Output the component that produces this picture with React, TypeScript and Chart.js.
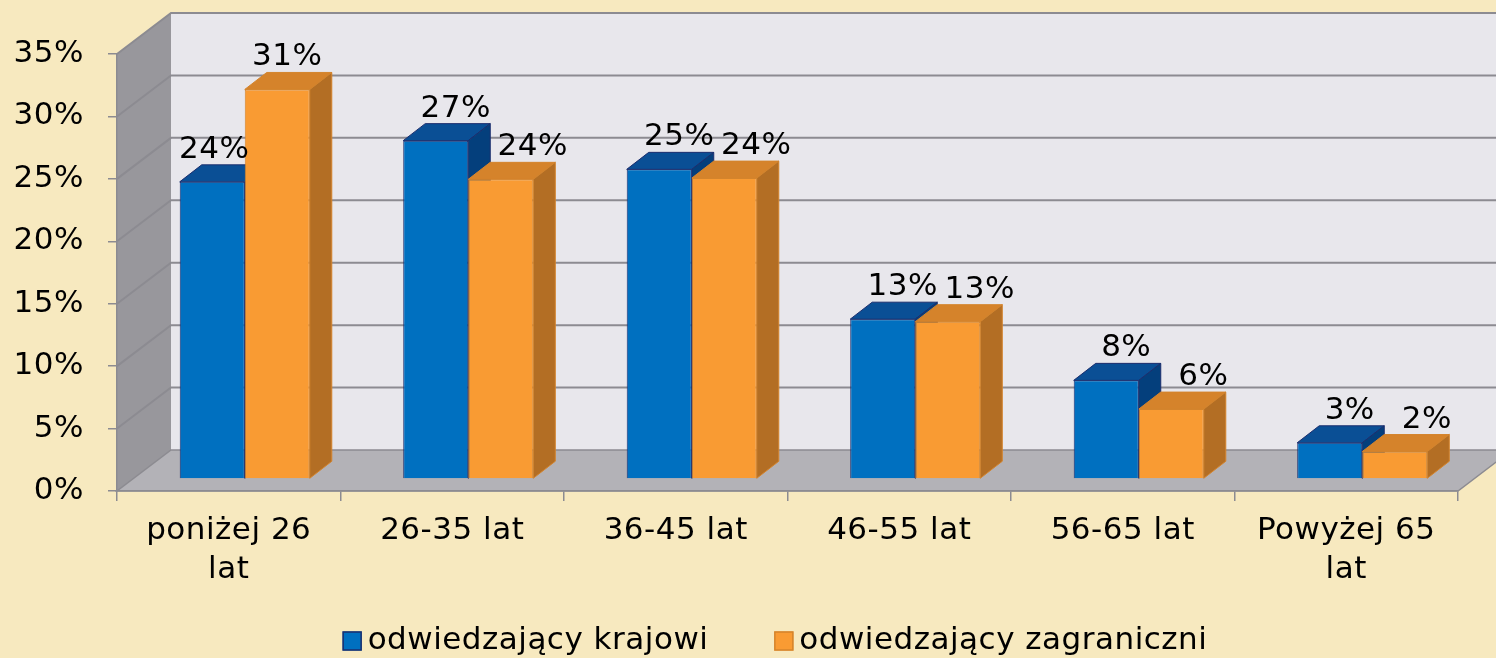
import React, { useEffect, useRef } from 'react';
import { Chart, registerables } from 'chart.js';

Chart.register(...registerables);

// ---- data ----
const categories: (string | string[])[] = [
  ['poniżej 26', 'lat'],
  '26-35 lat',
  '36-45 lat',
  '46-55 lat',
  '56-65 lat',
  ['Powyżej 65', 'lat'],
];
const domesticValues = [23.8, 27.1, 24.8, 12.8, 7.9, 2.9];
const foreignValues = [31.2, 24.0, 24.1, 12.6, 5.6, 2.2];
const seriesLabels = ['odwiedzający krajowi', 'odwiedzający zagraniczni'];
const yMin = 0;
const yMax = 35;
const yStep = 5;

// ---- style ----
const FONT = '"DejaVu Sans", Verdana, sans-serif';
const FONT_SIZE = 31;
const SPACING = '0.5px';
const BG = '#F7E9BF';
const BACK_WALL = '#E8E7EC';
const SIDE_WALL = '#98979C';
const FLOOR = '#B3B2B7';
const GRID = '#8C8B91';
const LEGEND_CENTER_X = 775;
const LEGEND_CENTER_Y = 641;

const BLUE = { front: '#0070C0', top: '#0A4F95', side: '#043F7C', edge: '#1B2E6E' };
const ORANGE = { front: '#F99B33', top: '#D5832B', side: '#B36E24', edge: '#D4842C' };
const PALETTES = [BLUE, ORANGE];

// projection offsets
const FRONT = { dx: 16, dy: -12 };
const DEPTH = { dx: 22, dy: -17 };
const WALL = { dx: 54, dy: -41 };

function poly(ctx: CanvasRenderingContext2D, pts: number[][], fill: string, stroke?: string, lw = 1) {
  ctx.beginPath();
  ctx.moveTo(pts[0][0], pts[0][1]);
  for (let i = 1; i < pts.length; i++) ctx.lineTo(pts[i][0], pts[i][1]);
  ctx.closePath();
  ctx.fillStyle = fill;
  ctx.fill();
  if (stroke) {
    ctx.strokeStyle = stroke;
    ctx.lineWidth = lw;
    ctx.stroke();
  }
}

const threeD = {
  id: 'threeD',
  beforeUpdate(chart: any) {
    (chart.ctx as any).letterSpacing = SPACING;
  },
  beforeDraw(chart: any) {
    const { ctx, chartArea: a, scales } = chart;
    (ctx as any).letterSpacing = SPACING;
    const y = scales.y;
    ctx.save();
    ctx.fillStyle = BG;
    ctx.fillRect(0, 0, chart.width, chart.height);
    // back wall
    ctx.fillStyle = BACK_WALL;
    ctx.fillRect(a.left + WALL.dx, a.top + WALL.dy, a.right - a.left, a.bottom - a.top);
    // side wall
    poly(ctx, [
      [a.left, a.top], [a.left + WALL.dx, a.top + WALL.dy],
      [a.left + WALL.dx, a.bottom + WALL.dy], [a.left, a.bottom],
    ], SIDE_WALL);
    // floor
    poly(ctx, [
      [a.left, a.bottom], [a.right, a.bottom],
      [a.right + WALL.dx, a.bottom + WALL.dy], [a.left + WALL.dx, a.bottom + WALL.dy],
    ], FLOOR, GRID, 1.5);
    // grid lines on side and back walls
    ctx.strokeStyle = GRID;
    ctx.lineWidth = 2;
    y.ticks.forEach((t: any) => {
      if (t.value <= yMin) return;
      const yp = y.getPixelForValue(t.value);
      ctx.beginPath();
      ctx.moveTo(a.left, yp);
      ctx.lineTo(a.left + WALL.dx, yp + WALL.dy);
      ctx.lineTo(a.right + WALL.dx, yp + WALL.dy);
      ctx.stroke();
    });
    ctx.restore();
  },
  beforeDatasetsDraw(chart: any) {
    const ctx: CanvasRenderingContext2D = chart.ctx;
    const n = chart.data.labels.length;
    const metas = chart.data.datasets.map((_: any, i: number) => chart.getDatasetMeta(i));
    ctx.save();
    ctx.lineJoin = 'round';
    for (let j = 0; j < n; j++) {
      metas.forEach((meta: any, i: number) => {
        const el = meta.data[j];
        if (!el) return;
        const p = PALETTES[i];
        const left = el.x - el.width / 2 + FRONT.dx;
        const right = el.x + el.width / 2 + FRONT.dx;
        const top = el.y + FRONT.dy;
        const bottom = el.base + FRONT.dy;
        poly(ctx, [
          [left, top], [right, top],
          [right + DEPTH.dx, top + DEPTH.dy], [left + DEPTH.dx, top + DEPTH.dy],
        ], p.top, p.edge, 1);
        poly(ctx, [
          [right, top], [right + DEPTH.dx, top + DEPTH.dy],
          [right + DEPTH.dx, bottom + DEPTH.dy], [right, bottom],
        ], p.side, p.edge, 1);
      });
    }
    ctx.restore();
    ctx.save();
    ctx.translate(FRONT.dx, FRONT.dy);
  },
  afterDatasetsDraw(chart: any) {
    const ctx: CanvasRenderingContext2D = chart.ctx;
    ctx.restore();
    ctx.save();
    (ctx as any).letterSpacing = SPACING;
    ctx.font = `${FONT_SIZE}px ${FONT}`;
    ctx.fillStyle = '#000';
    ctx.textAlign = 'center';
    ctx.textBaseline = 'alphabetic';
    const datasets = chart.data.datasets;
    datasets.forEach((ds: any, i: number) => {
      const meta = chart.getDatasetMeta(i);
      meta.data.forEach((el: any, j: number) => {
        const v = ds.data[j];
        const next = datasets[i + 1];
        const prev = datasets[i - 1];
        let shift: number;
        if (i === 0) shift = next && next.data[j] > v ? 2 : 20;
        else shift = prev && prev.data[j] < v ? 10 : 32;
        const x = el.x + FRONT.dx + shift;
        const yb = el.y + FRONT.dy - 24;
        ctx.fillText(`${Math.round(v)}%`, x, yb);
      });
    });
    ctx.restore();
  },
  afterDraw(chart: any) {
    const ctx: CanvasRenderingContext2D = chart.ctx;
    ctx.save();
    (ctx as any).letterSpacing = SPACING;
    ctx.font = `${FONT_SIZE}px ${FONT}`;
    const box = 19;
    const gap = 6;
    const itemGap = 66;
    const items = chart.data.datasets.map((ds: any, i: number) => ({
      text: ds.label,
      w: box + gap + ctx.measureText(ds.label).width,
      p: PALETTES[i],
    }));
    const total = items.reduce((s: number, it: any) => s + it.w, 0) + itemGap * (items.length - 1);
    let x = LEGEND_CENTER_X - total / 2;
    const cy = LEGEND_CENTER_Y;
    items.forEach((it: any) => {
      ctx.fillStyle = it.p.front;
      ctx.fillRect(x, cy - box / 2, box, box);
      ctx.strokeStyle = it.p.edge;
      ctx.lineWidth = 1.5;
      ctx.strokeRect(x + 0.5, cy - box / 2 + 0.5, box - 1, box - 1);
      ctx.fillStyle = '#000';
      ctx.textAlign = 'left';
      ctx.textBaseline = 'middle';
      ctx.fillText(it.text, x + box + gap, cy);
      x += it.w + itemGap;
    });
    ctx.restore();
  },
};

export default function App() {
  const ref = useRef<HTMLCanvasElement>(null);
  useEffect(() => {
    document.body.style.margin = '0';
    const canvas = ref.current!;
    const chart = new Chart(canvas, {
      type: 'bar',
      data: {
        labels: categories,
        datasets: [
          {
            label: seriesLabels[0],
            data: domesticValues,
            backgroundColor: BLUE.front,
            borderColor: BLUE.edge,
            borderWidth: 1,
            clip: false,
          } as any,
          {
            label: seriesLabels[1],
            data: foreignValues,
            backgroundColor: ORANGE.front,
            borderColor: ORANGE.edge,
            borderWidth: 1,
            clip: false,
          } as any,
        ],
      },
      options: {
        responsive: false,
        animation: false,
        devicePixelRatio: 1,
        layout: { padding: { left: 0, right: 38, top: 54, bottom: 0 } },
        datasets: { bar: { categoryPercentage: 0.582, barPercentage: 1 } },
        plugins: {
          legend: { display: false },
          tooltip: { enabled: false },
        },
        scales: {
          x: {
            grid: {
              display: true,
              drawOnChartArea: false,
              drawTicks: true,
              tickLength: 10,
              color: GRID,
              lineWidth: 1.5,
              offset: true,
            },
            border: { display: true, color: GRID, width: 1.5 },
            ticks: {
              color: '#000',
              font: { family: FONT, size: FONT_SIZE, lineHeight: 1.25 },
              padding: 11,
              maxRotation: 0,
              minRotation: 0,
              autoSkip: false,
            },
            afterFit: (s: any) => {
              s.height = 167;
            },
          },
          y: {
            min: yMin,
            max: yMax,
            grid: {
              drawOnChartArea: false,
              drawTicks: true,
              tickLength: 9,
              color: GRID,
              lineWidth: 1.5,
            },
            border: { display: true, color: GRID, width: 1.5 },
            ticks: {
              stepSize: yStep,
              color: '#000',
              font: { family: FONT, size: FONT_SIZE },
              padding: 24,
              callback: (v: any) => `${v}%`,
            },
            afterFit: (s: any) => {
              s.width = 117;
            },
          },
        },
      } as any,
      plugins: [threeD],
    });
    return () => chart.destroy();
  }, []);
  return (
    <div style={{ width: 1496, height: 658, background: BG }}>
      <canvas ref={ref} width={1496} height={658} style={{ display: 'block' }} />
    </div>
  );
}
